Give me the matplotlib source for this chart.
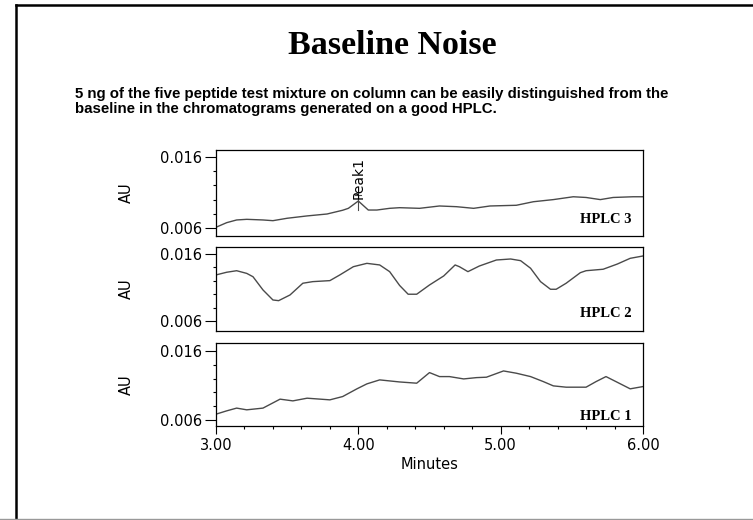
import matplotlib
matplotlib.use("Agg")
import matplotlib.pyplot as plt
from matplotlib.lines import Line2D
from matplotlib.ticker import MultipleLocator, FixedLocator

# Chromatogram traces (minutes, AU)
hplc3_t = [3.00, 3.075, 3.145, 3.216, 3.33, 3.40, 3.50, 3.64, 3.78, 3.89, 3.93, 4.00,
           4.07, 4.13, 4.22, 4.29, 4.43, 4.57, 4.69, 4.81, 4.925, 5.11, 5.23, 5.37,
           5.51, 5.60, 5.70, 5.79, 5.93, 6.00]
hplc3_au = [0.0061, 0.00675, 0.00713, 0.00722, 0.00713, 0.00703, 0.00737, 0.0077, 0.00797,
            0.0085, 0.00877, 0.0098, 0.00853, 0.00853, 0.00877, 0.00886, 0.00877, 0.0091,
            0.0090, 0.00877, 0.0091, 0.0092, 0.0097, 0.0100, 0.0104, 0.0103, 0.0100,
            0.0103, 0.0104, 0.0104]

hplc2_t = [3.00, 3.075, 3.145, 3.216, 3.26, 3.33, 3.40, 3.44, 3.52, 3.61, 3.68, 3.80,
           3.87, 3.965, 4.06, 4.15, 4.22, 4.29, 4.35, 4.41, 4.50, 4.60, 4.68, 4.71,
           4.77, 4.85, 4.97, 5.07, 5.14, 5.21, 5.28, 5.35, 5.39, 5.46, 5.56, 5.60,
           5.72, 5.82, 5.91, 6.00]
hplc2_au = [0.01287, 0.01327, 0.0135, 0.0131, 0.0126, 0.01063, 0.00913, 0.00903, 0.00988,
            0.01163, 0.01187, 0.01202, 0.01287, 0.0141, 0.0146, 0.01436, 0.01336, 0.0113,
            0.00999, 0.00999, 0.01137, 0.01272, 0.01436, 0.0141, 0.01336, 0.0142, 0.0151,
            0.01525, 0.0150, 0.01387, 0.01187, 0.01073, 0.01073, 0.01163, 0.01321, 0.0135,
            0.01372, 0.0145, 0.01535, 0.0157]

hplc1_t = [3.00, 3.075, 3.145, 3.216, 3.33, 3.45, 3.54, 3.64, 3.80, 3.89, 3.99, 4.06,
           4.15, 4.22, 4.29, 4.41, 4.50, 4.57, 4.64, 4.74, 4.83, 4.90, 5.02, 5.11,
           5.21, 5.30, 5.37, 5.46, 5.60, 5.67, 5.74, 5.81, 5.91, 6.00]
hplc1_au = [0.00682, 0.0073, 0.0077, 0.00745, 0.0077, 0.0090, 0.00875, 0.00914, 0.0089,
            0.00938, 0.0105, 0.01122, 0.0118, 0.01165, 0.0115, 0.01132, 0.01286, 0.01228,
            0.01228, 0.01194, 0.01213, 0.01219, 0.0131, 0.01277, 0.01228, 0.01155, 0.01093,
            0.01074, 0.01074, 0.01155, 0.01228, 0.01155, 0.0105, 0.01083]

peak_t = 4.00
peak_base = 0.00853
peak_top = 0.0098

panels = [
    ("HPLC 3", hplc3_t, hplc3_au, (0.00487, 0.01699), 0.151),
    ("HPLC 2", hplc2_t, hplc2_au, (0.0045, 0.01704), 0.167),
    ("HPLC 1", hplc1_t, hplc1_au, (0.0051, 0.01716), 0.072),
]
# axes boxes in pixels (top, bottom) of the 753x520 picture
boxes = [(150, 236), (247, 331), (343, 426)]

W, H = 753, 520
fig = plt.figure(figsize=(W / 100, H / 100), dpi=100)

line_col = "#4a4a4a"
tick_font = dict(family="DejaVu Sans", size=10.5)

for i, ((name, t, au, ylim, lab_y), (top, bot)) in enumerate(zip(panels, boxes)):
    ax = fig.add_axes([216 / W, 1 - bot / H, 427 / W, (bot - top) / H])
    ax.plot(t, au, color=line_col, lw=1.0)
    ax.set_xlim(3.0, 6.0)
    ax.set_ylim(*ylim)
    ax.yaxis.set_major_locator(FixedLocator([0.006, 0.016]))
    ax.yaxis.set_minor_locator(FixedLocator([0.008, 0.010, 0.012, 0.014]))
    ax.set_yticklabels(["0.006", "0.016"], fontdict=tick_font)
    ax.tick_params(axis="y", which="major", length=8, width=0.8, pad=2)
    ax.tick_params(axis="y", which="minor", length=2.5, width=0.8)
    ax.set_ylabel("AU", fontdict=tick_font)
    ax.yaxis.set_label_coords(-0.211, 0.5)
    ax.yaxis.label.set_verticalalignment("center")
    for s in ax.spines.values():
        s.set_linewidth(0.9)
    ax.text(0.974, lab_y, name, transform=ax.transAxes, ha="right", va="baseline",
            family="Liberation Serif", fontweight="bold", fontsize=10.5)
    if i < 2:
        ax.tick_params(axis="x", which="both", bottom=False, labelbottom=False)
    else:
        ax.xaxis.set_major_locator(MultipleLocator(1.0))
        ax.xaxis.set_minor_locator(MultipleLocator(0.2))
        ax.set_xticks([3, 4, 5, 6])
        ax.set_xticklabels(["3.00", "4.00", "5.00", "6.00"], fontdict=tick_font)
        ax.tick_params(axis="x", which="major", length=6, width=0.8, pad=3)
        ax.tick_params(axis="x", which="minor", length=2.5, width=0.8)
        ax.set_xlabel("Minutes", fontdict=tick_font)
        ax.xaxis.set_label_coords(0.5, -0.46)
        ax.xaxis.label.set_verticalalignment("center")
    if i == 0:
        # peak drop line and marker
        ax.plot([peak_t, peak_t], [peak_base, peak_top + 0.0012], color=line_col, lw=0.8)
        ax.plot([peak_t - 0.02, peak_t + 0.02], [peak_top + 0.0008] * 2, color=line_col, lw=0.8)
        ax.text(peak_t, peak_top + 0.0003, "Peak1", rotation=90, ha="center", va="bottom",
                family="DejaVu Sans", fontsize=10)

# page frame
fig.add_artist(Line2D([16 / W, 16 / W], [1 - 5 / H, 0], color="black", lw=1.8))
fig.add_artist(Line2D([16 / W, 1], [1 - 5 / H, 1 - 5 / H], color="black", lw=1.8))
fig.add_artist(Line2D([0, 1], [1.2 / H, 1.2 / H], color="#999999", lw=1.0))

fig.text(392 / W, 1 - 54 / H, "Baseline Noise", ha="center", va="baseline",
         family="Liberation Serif", fontweight="bold", fontsize=24.5)
fig.text(75 / W, 1 - 98 / H,
         "5 ng of the five peptide test mixture on column can be easily distinguished from the",
         ha="left", va="baseline", family="Liberation Sans", fontweight="bold", fontsize=10.85)
fig.text(75 / W, 1 - 113 / H,
         "baseline in the chromatograms generated on a good HPLC.",
         ha="left", va="baseline", family="Liberation Sans", fontweight="bold", fontsize=10.85)

fig.savefig("out.png", dpi=100)
